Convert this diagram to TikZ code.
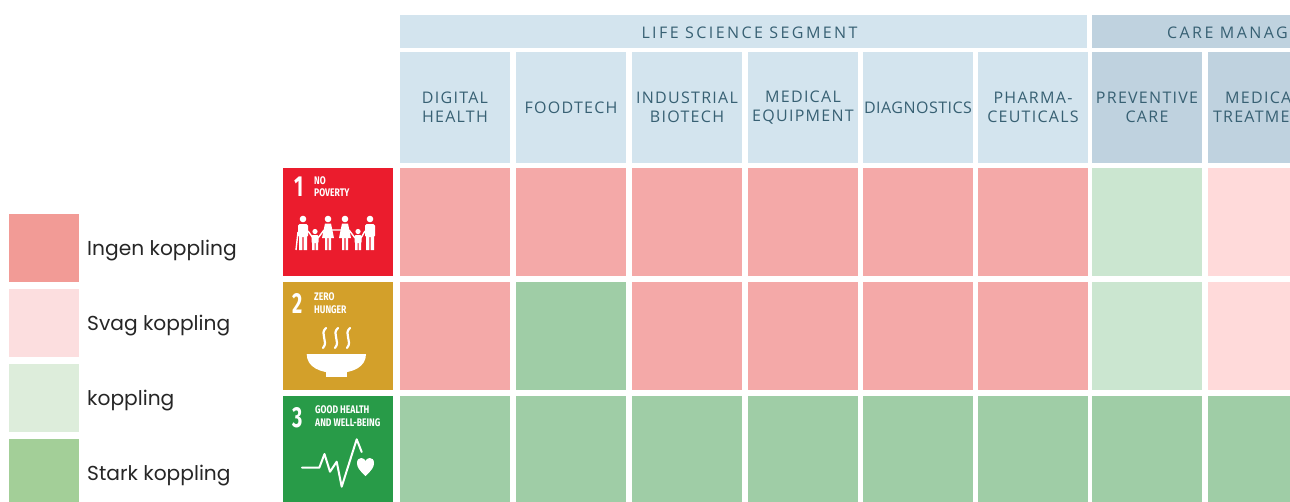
\documentclass[tikz,border=0pt]{standalone}
\usepackage{fontspec}
\newfontfamily\headfont[LetterSpace=8]{Open Sans}
\newfontfamily\headtightfont[LetterSpace=3]{Open Sans}
\newfontfamily\bandfont[LetterSpace=15]{Open Sans}
\newfontfamily\keyfont{Poppins}
\newfontfamily\sdgfont[FakeStretch=0.68]{Fira Sans}
\newfontfamily\sdgtitlefont[FakeStretch=0.78]{Fira Sans}
\definecolor{ingen}{RGB}{244,169,168}
\definecolor{svag}{RGB}{255,218,218}
\definecolor{koppl}{RGB}{203,230,208}
\definecolor{stark}{RGB}{159,205,166}
\definecolor{keyingen}{RGB}{242,155,150}
\definecolor{keysvag}{RGB}{252,222,223}
\definecolor{keykoppl}{RGB}{221,237,219}
\definecolor{keystark}{RGB}{163,207,152}
\definecolor{lsblue}{RGB}{211,228,238}
\definecolor{cmblue}{RGB}{191,210,223}
\definecolor{headtext}{RGB}{55,96,115}
\definecolor{sdgred}{RGB}{235,28,45}
\definecolor{sdggold}{RGB}{211,160,42}
\definecolor{sdggreen}{RGB}{40,155,72}
\tikzset{cell/.style={anchor=north west, inner sep=0pt, outer sep=0pt,
         minimum width=110pt, minimum height=108pt},
         colhead/.style={cell, minimum height=111pt, text=headtext, align=center,
         font=\headfont\fontsize{16}{18.6}\selectfont},
         segband/.style={cell, minimum height=33pt},
         segtext/.style={text=headtext, inner sep=0pt, font=\bandfont\fontsize{16}{18}\selectfont},
         keybox/.style={cell, minimum width=70pt, minimum height=68pt},
         keytext/.style={anchor=base west, inner sep=0pt, text=black!85,
         font=\keyfont\fontsize{20.2}{22}\selectfont},
         sdgnum/.style={anchor=base west, inner sep=0pt, text=white,
         font=\sdgfont\bfseries\fontsize{29}{30}\selectfont},
         sdgtitle/.style={anchor=base west, inner sep=0pt, text=white,
         font=\sdgtitlefont\bfseries\fontsize{11}{11}\selectfont},
         icon/.style={white, line width=2pt, line cap=round, line join=round},
         adult/.pic={\fill[white] (0,-26) circle[radius=3.3];
           \fill[white,rounded corners=1.5pt] (-5,-21) rectangle (5,-8);
           \fill[white] (-4,-9) rectangle (-0.6,5) (0.6,-9) rectangle (4,5);},
         woman/.pic={\fill[white] (0,-26) circle[radius=3.3];
           \fill[white] (-3,-21.5) -- (3,-21.5) -- (6,-7) -- (-6,-7) -- cycle;
           \fill[white] (-3,-8) rectangle (-0.7,5) (0.7,-8) rectangle (3,5);},
         child/.pic={\fill[white] (0,-13.5) circle[radius=2.6];
           \fill[white,rounded corners=1pt] (-3.5,-10) rectangle (3.5,-2);
           \fill[white] (-3,-3) rectangle (-0.5,5) (0.5,-3) rectangle (3,5);}}

\begin{document}
\begin{tikzpicture}[x=1pt, y=-1pt]
    \useasboundingbox (0,0) rectangle (1290,501);
    \fill[white] (0,0) rectangle (1290,501);
    \clip (0,0) rectangle (1290,501);

    % segment bands
    \node[segband, fill=lsblue, minimum width=687pt] (lifeband) at (400,15) {};
    \node[segtext] (lifetext) at ([xshift=6pt,yshift=-1pt]lifeband.center) {LIFE SCIENCE SEGMENT};
    \node[segband, fill=cmblue, minimum width=300pt] (careband) at (1092,15) {};
    \node[segtext, anchor=west] (caretext) at (1167,33) {CARE MANAGEMENT};

    % column headers
    \foreach \x/\t/\f [count=\i] in {400/{DIGITAL\\HEALTH}/lsblue, 516/{FOODTECH}/lsblue,
        632/{INDUSTRIAL\\BIOTECH}/lsblue, 748/{MEDICAL\\EQUIPMENT}/lsblue,
        863/{\headtightfont DIAGNOSTICS}/lsblue, 978/{PHARMA-\\CEUTICALS}/lsblue,
        1092/{PREVENTIVE\\CARE}/cmblue, 1208/{MEDICAL\\TREATMENT}/cmblue}
      \node[colhead, fill=\f, text width=110pt] (h\i) at (\x,52) {\t};

    % matrix cells, one column per step
    \foreach \x/\a/\b/\c [count=\i] in {400/ingen/ingen/stark, 516/ingen/stark/stark,
        632/ingen/ingen/stark, 748/ingen/ingen/stark, 863/ingen/ingen/stark,
        978/ingen/ingen/stark, 1092/koppl/koppl/stark, 1208/svag/svag/stark}{
      \node[cell, fill=\a] (c1\i) at (\x,168) {};
      \node[cell, fill=\b] (c2\i) at (\x,282) {};
      \node[cell, fill=\c] (c3\i) at (\x,396) {};
    }

    % SDG 1
    \node[cell, fill=sdgred] (sdg1) at (283,168) {};
    \node[sdgnum] (n1) at (294,196) {1};
    \node[sdgtitle] (t1a) at (314,184.5) {NO};
    \node[sdgtitle] (t1b) at (314,196) {POVERTY};
    \draw[white, line width=1.4pt] (298,232) -- (296,250) (308,231) -- (313,238)
      (318,238) -- (324,230) (332,230) -- (341,230) (349,230) -- (355,238)
      (361,238) -- (365,231);
    \pic at (303,245) {adult};
    \pic at (315,245) {child};
    \pic at (328,245) {woman};
    \pic at (345,245) {woman};
    \pic at (358,245) {child};
    \pic at (370,245) {adult};

    % SDG 2
    \node[cell, fill=sdggold] (sdg2) at (283,282) {};
    \node[sdgnum] (n2) at (292,313) {2};
    \node[sdgtitle] (t2a) at (314,300.5) {ZERO};
    \node[sdgtitle] (t2b) at (314,313) {HUNGER};
    \foreach \s in {324,336,348}
      \draw[icon, line width=2.2pt] (\s+2,328) .. controls (\s-5,334) and (\s+5,341) .. (\s-1,348);
    \fill[white] (306.7,354) .. controls (306.7,367) and (320,373) .. (336.4,373)
      .. controls (353,373) and (366,367) .. (366,354) -- cycle;
    \fill[white] (326,370) rectangle (347,377);

    % SDG 3
    \node[cell, fill=sdggreen] (sdg3) at (283,396) {};
    \node[sdgnum] (n3) at (292,427) {3};
    \node[sdgtitle] (t3a) at (315,413) {GOOD HEALTH};
    \node[sdgtitle] (t3b) at (315,426.5) {AND WELL-BEING};
    \draw[icon] (302,467.7) -- (319.3,467.7) -- (324.5,454) -- (330,471.7)
      -- (336.7,461.7) -- (341.7,486.7) -- (356.7,439.3) -- (361.7,452);
    \fill[white] (365.5,476) .. controls (359,470) and (357,467) .. (357,463)
      .. controls (357,459.5) and (359,458) .. (361.3,458)
      .. controls (363.5,458) and (365,459.5) .. (365.5,461)
      .. controls (366,459.5) and (367.5,458) .. (369.7,458)
      .. controls (372,458) and (374,459.5) .. (374,463)
      .. controls (374,467) and (372,470) .. (365.5,476) -- cycle;

    % legend
    \foreach \y/\f/\t [count=\i] in {214/keyingen/Ingen koppling, 289/keysvag/Svag koppling,
        364/keykoppl/koppling, 439/keystark/Stark koppling}{
      \node[keybox, fill=\f] (k\i) at (9,\y) {};
      \node[keytext] (kt\i) at (87,\y+41) {\t};
    }
\end{tikzpicture}
\end{document}
